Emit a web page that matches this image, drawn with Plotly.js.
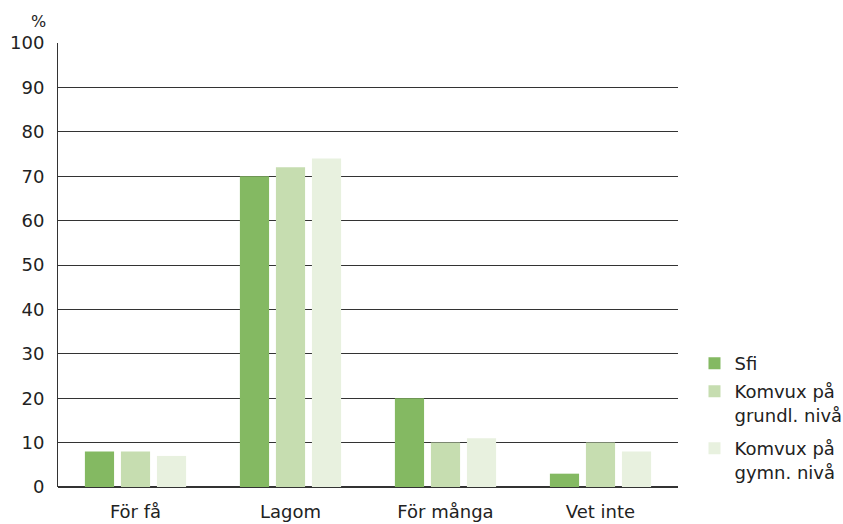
<!DOCTYPE html>
<html>
<head>
<meta charset="utf-8">
<script src="https://cdn.plot.ly/plotly-3.0.1.min.js"></script>
<style>html,body{margin:0;padding:0;background:#fff;}#chart{width:843px;height:524px;}</style>
</head>
<body>
<div id="chart"></div>
<script>
const categories = ["För få", "Lagom", "För många", "Vet inte"];
const seriesNames = ["Sfi", "Komvux på<br>grundl. nivå", "Komvux på<br>gymn. nivå"];
const sfi = [8, 70, 20, 3];
const komvuxGrund = [8, 72, 10, 10];
const komvuxGymn = [7, 74, 11, 8];
const yTicks = [0, 10, 20, 30, 40, 50, 60, 70, 80, 90, 100];

const colors = ["#84b962", "#c6ddb0", "#e8f1df"];
const values = [sfi, komvuxGrund, komvuxGymn];
const legendIds = ["legend", "legend2", "legend3"];

const traces = values.map((v, i) => ({
  type: "bar",
  name: seriesNames[i],
  x: categories,
  y: v,
  marker: {color: colors[i], line: {width: 0}},
  legend: legendIds[i],
  hoverinfo: "none"
}));

const FONT = "DejaVu Sans, Verdana, sans-serif";
const legendFont = {family: FONT, size: 18, color: "#222"};
function leg(yPaper) {
  return {x: 1.0266, xanchor: "left", y: yPaper, yanchor: "top", font: legendFont,
          bgcolor: "rgba(0,0,0,0)", valign: "top", itemclick: false, itemdoubleclick: false};
}
const toPaper = (pix) => (487 - pix) / 444;

const layout = {
  width: 843, height: 524,
  margin: {l: 58, r: 165, t: 43, b: 37, autoexpand: false},
  paper_bgcolor: "#fff", plot_bgcolor: "#fff",
  barmode: "group",
  bargap: 0.303,
  bargroupgap: 0.19,
  font: {family: FONT, size: 18, color: "#222"},
  xaxis: {
    type: "category",
    showgrid: false, zeroline: false, showline: false,
    ticks: "", ticklabelstandoff: 12, tickfont: {size: 18, color: "#222"},
    fixedrange: true
  },
  yaxis: {
    range: [0, 100], tickvals: yTicks, ticktext: yTicks.map(String),
    showgrid: true, gridcolor: "#333", gridwidth: 1,
    zeroline: true, zerolinecolor: "#333", zerolinewidth: 1.8,
    showline: true, linecolor: "#333", linewidth: 1,
    ticks: "", ticklabelstandoff: 9,
    tickfont: {size: 18, color: "#222"},
    fixedrange: true
  },
  showlegend: true,
  legend: leg(toPaper(345)),
  legend2: leg(toPaper(373)),
  legend3: leg(toPaper(430)),
  annotations: [{
    text: "%", xref: "paper", yref: "paper", x: 0, y: 1, xanchor: "right", yanchor: "bottom",
    xshift: -10, yshift: 10, showarrow: false, font: {size: 16, color: "#222"}
  }]
};

Plotly.newPlot("chart", traces, layout, {staticPlot: true, displayModeBar: false});
</script>
</body>
</html>
